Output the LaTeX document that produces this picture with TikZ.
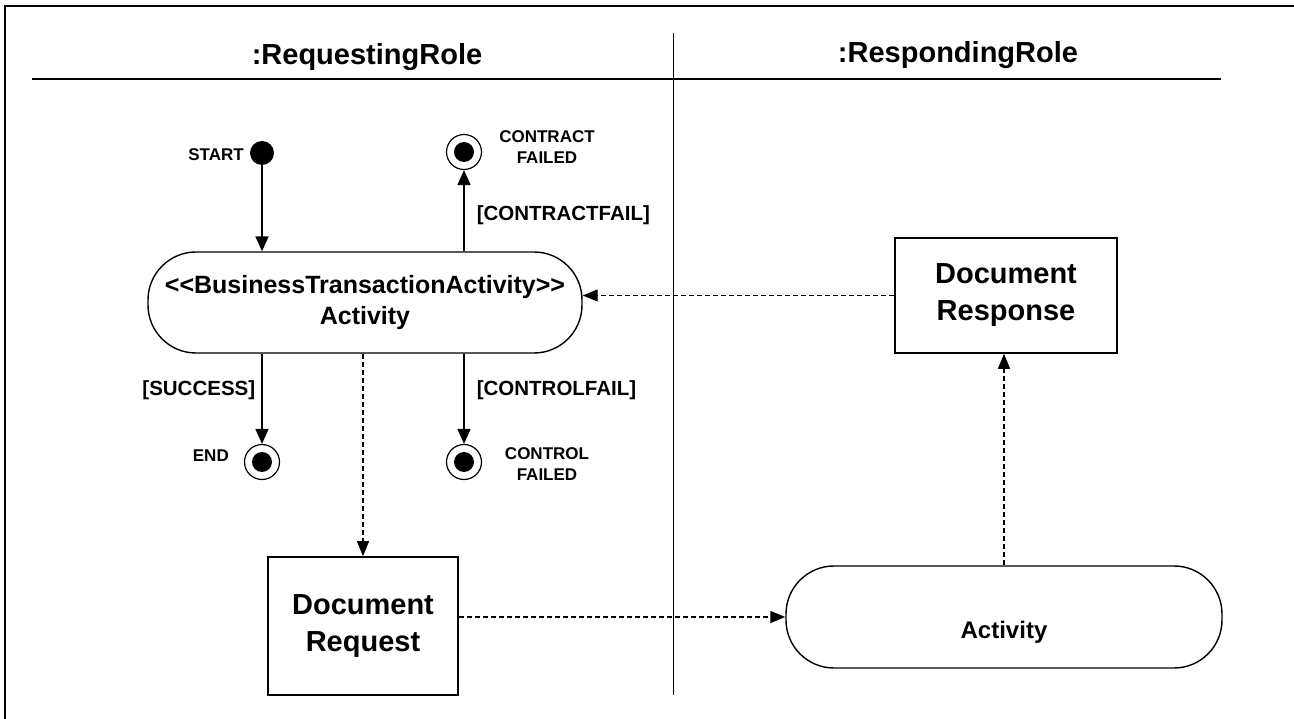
\documentclass[tikz,border=0pt]{standalone}
\usepackage{fontspec}
\setmainfont{Liberation Sans}
\usetikzlibrary{arrows.meta}

\tikzset{
  frameline/.style={line width=2.2pt},
  activity/.style={draw, line width=1.4pt, rounded corners=48pt, align=center,
    inner sep=0pt, font=\fontsize{25}{31}\selectfont\bfseries},
  actname/.style={font=\fontsize{24}{30}\selectfont\bfseries, inner sep=0pt},
  docbox/.style={draw, line width=1.6pt, align=center, inner sep=0pt,
    font=\fontsize{29}{37}\selectfont\bfseries},
  initstate/.style={circle, fill=black, minimum size=24pt, inner sep=0pt},
  finalstate/.style={circle, draw, line width=1.2pt, fill=white, minimum size=35pt, inner sep=0pt,
    path picture={\fill[black] (path picture bounding box.center) circle[radius=10pt];}},
  lanehead/.style={font=\fontsize{29}{34}\selectfont\bfseries},
  statelbl/.style={font=\fontsize{17}{21}\selectfont\bfseries, align=center, inner sep=0pt},
  guardlbl/.style={font=\fontsize{20.5}{23}\selectfont\bfseries, inner sep=0pt},
  flow/.style={line width=1.6pt, -{Triangle[length=15pt,width=13pt]}},
  objflow/.style={line width=1.2pt, dash pattern=on 5pt off 3pt, -{Triangle[length=15pt,width=12pt]}},
}

\begin{document}
\begin{tikzpicture}[x=1pt, y=-1pt]
\useasboundingbox (0,0) rectangle (1294,719);

% outer frame and swimlane partition
\draw[frameline] (5,719) -- (5,6) -- (1294,6);
\draw[line width=2pt] (32,79) -- (1221,79);
\draw[line width=1pt] (673,33) -- (673,695);
\node[lanehead] (laneA) at (367,57) {:RequestingRole};
\node[lanehead] (laneB) at (958,55) {:RespondingRole};

% requesting side states
\node[initstate] (start) at (262,153) {};
\node[statelbl, anchor=east] (startlbl) at (244,155) {START};

\node[activity, minimum width=434pt, minimum height=101pt] (bta) at (365,302.5)
  {<{}<BusinessTransactionActivity>{}>\\Activity};

\node[finalstate] (cfail) at (464,152) {};
\node[statelbl] (cfaillbl) at (547,147) {CONTRACT\\FAILED};

\node[finalstate] (endst) at (262,462) {};
\node[statelbl, anchor=east] (endlbl) at (229,456) {END};

\node[finalstate] (ctlfail) at (464,462) {};
\node[statelbl] (ctlfaillbl) at (547,464) {CONTROL\\FAILED};

\node[docbox, minimum width=190pt, minimum height=138pt] (docreq) at (363,626)
  {Document\\Request};

% responding side
\node[docbox, minimum width=222pt, minimum height=115pt] (docresp) at (1006,295.5)
  {Document\\Response};

\node[activity, minimum width=436pt, minimum height=102pt] (act2) at (1004,617) {};
\node[actname] (act2name) at (1004,632) {Activity};

% control flows
\draw[flow] (start) -- (start |- bta.north);
\draw[flow] (cfail |- bta.north) -- (cfail.south)
  node[guardlbl, pos=0.45, anchor=west, xshift=12pt] (g1) {[CONTRACTFAIL]};
\draw[flow] (endst |- bta.south) -- (endst.north)
  node[guardlbl, pos=0.4, anchor=east, xshift=-6pt] (g2) {[SUCCESS]};
\draw[flow] (ctlfail |- bta.south) -- (ctlfail.north)
  node[guardlbl, pos=0.4, anchor=west, xshift=12pt] (g3) {[CONTROLFAIL]};

% object flows
\draw[objflow] (docreq.north |- bta.south) -- (docreq.north);
\draw[objflow] (act2.west -| docreq.east) -- (act2.west);
\draw[objflow] (act2.north) -- (act2.north |- docresp.south);
\draw[objflow] (docresp.west) -- (docresp.west -| bta.east);
\end{tikzpicture}
\end{document}
